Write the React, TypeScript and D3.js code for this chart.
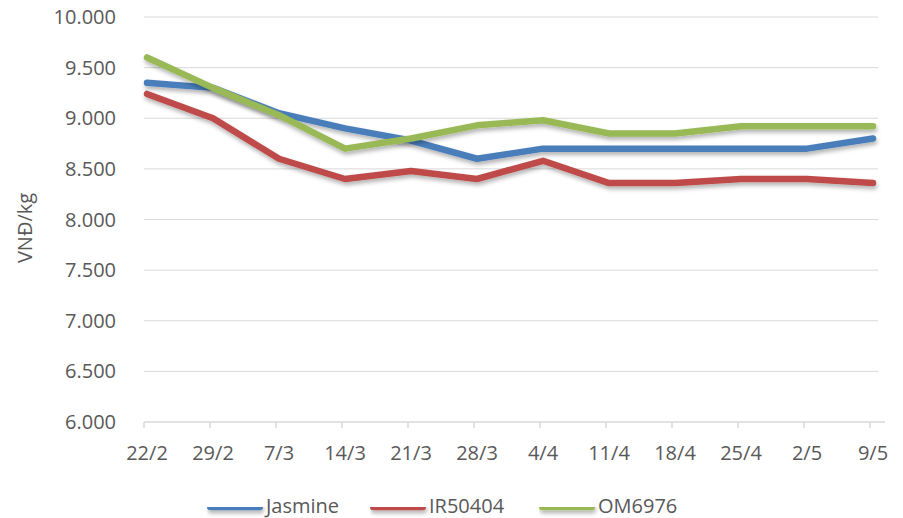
import React, { useEffect, useRef } from 'react';
import * as d3 from 'd3';

const dates = ['22/2', '29/2', '7/3', '14/3', '21/3', '28/3', '4/4', '11/4', '18/4', '25/4', '2/5', '9/5'];
const jasmine = [9350, 9300, 9050, 8900, 8780, 8600, 8700, 8700, 8700, 8700, 8700, 8800];
const ir50404 = [9240, 9000, 8600, 8400, 8480, 8400, 8580, 8360, 8360, 8400, 8400, 8360];
const om6976 = [9600, 9300, 9030, 8700, 8800, 8930, 8980, 8850, 8850, 8920, 8920, 8920];
const yTicks = [6000, 6500, 7000, 7500, 8000, 8500, 9000, 9500, 10000];

const series = [
  { name: 'Jasmine', values: jasmine, color: '#4a7ebb' },
  { name: 'IR50404', values: ir50404, color: '#be4b48' },
  { name: 'OM6976', values: om6976, color: '#98b954' },
];

export default function App() {
  const ref = useRef<SVGSVGElement>(null);

  useEffect(() => {
    const svg = d3.select(ref.current);
    svg.selectAll('*').remove();

    const font = "'Open Sans', 'Liberation Sans', sans-serif";
    const left = 144, right = 878, top = 17, bottom = 422;

    const x = d3.scalePoint<string>().domain(dates).range([147, 873]);
    const y = d3.scaleLinear().domain([6000, 10000]).range([bottom, top]);

    const defs = svg.append('defs');
    const f = defs.append('filter').attr('id', 'shadow')
      .attr('filterUnits', 'userSpaceOnUse')
      .attr('x', 0).attr('y', 0).attr('width', 903).attr('height', 518);
    f.append('feDropShadow').attr('dx', 1).attr('dy', 3).attr('stdDeviation', 2).attr('flood-color', '#000').attr('flood-opacity', 0.3);

    // gridlines
    svg.append('g')
      .selectAll('line')
      .data(yTicks.slice(1))
      .join('line')
      .attr('x1', left).attr('x2', right)
      .attr('y1', d => y(d)).attr('y2', d => y(d))
      .attr('stroke', '#d9d9d9').attr('stroke-width', 1);

    // y labels
    svg.append('g')
      .selectAll('text')
      .data(yTicks)
      .join('text')
      .attr('x', 116).attr('y', d => y(d))
      .attr('dy', '0.35em')
      .attr('text-anchor', 'end')
      .attr('font-family', font).attr('font-size', 20)
      .attr('fill', '#595959')
      .text(d => d3.format(',.3f')(d / 1000));

    // x axis
    const xAxis = svg.append('g').attr('transform', `translate(0,${bottom})`);
    xAxis.append('line').attr('x1', left).attr('x2', right + 7).attr('stroke', '#d9d9d9').attr('stroke-width', 1.5);
    xAxis.selectAll('line.tick')
      .data(dates)
      .join('line')
      .attr('class', 'tick')
      .attr('x1', d => x(d)! - 3).attr('x2', d => x(d)! - 3)
      .attr('y1', 0).attr('y2', 6)
      .attr('stroke', '#d9d9d9').attr('stroke-width', 1.5);
    xAxis.selectAll('text')
      .data(dates)
      .join('text')
      .attr('x', d => x(d)!)
      .attr('y', 38)
      .attr('text-anchor', 'middle')
      .attr('font-family', font).attr('font-size', 20)
      .attr('fill', '#595959')
      .text(d => d);

    // y title
    svg.append('text')
      .attr('transform', `translate(32,228) rotate(-90)`)
      .attr('text-anchor', 'middle')
      .attr('font-family', font).attr('font-size', 20)
      .attr('fill', '#595959')
      .text('VNĐ/kg');

    const line = d3.line<number>()
      .x((_, i) => x(dates[i])!)
      .y(d => y(d));

    svg.append('g')
      .selectAll('path')
      .data(series)
      .join('path')
      .attr('d', d => line(d.values))
      .attr('fill', 'none')
      .attr('stroke', d => d.color)
      .attr('stroke-width', 6.5)
      .attr('stroke-linejoin', 'round')
      .attr('stroke-linecap', 'round')
      .attr('filter', 'url(#shadow)');

    // legend
    const legendX = [207, 370, 539];
    const lg = svg.append('g').selectAll('g').data(series).join('g')
      .attr('transform', (_, i) => `translate(${legendX[i]},507)`);
    lg.append('rect')
      .attr('x', 0).attr('y', -3.25)
      .attr('width', 56).attr('height', 6.5)
      .attr('rx', 3.25)
      .attr('fill', d => d.color)
      .attr('filter', 'url(#shadow)');
    lg.append('text')
      .attr('x', 59).attr('y', 6)
      .attr('font-family', font).attr('font-size', 20)
      .attr('fill', '#595959')
      .text(d => d.name);
  }, []);

  return (
    <svg ref={ref} width={903} height={518} style={{ position: 'absolute', left: 0, top: 0, background: '#fff' }} />
  );
}
